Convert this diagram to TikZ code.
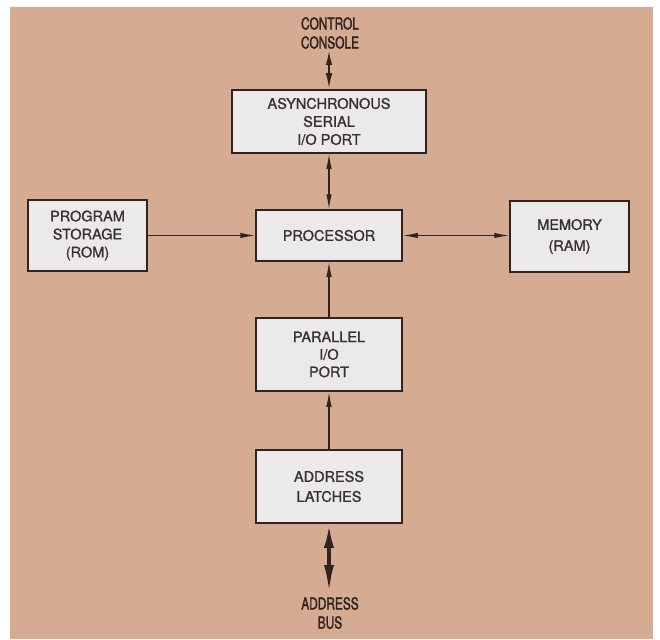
\documentclass[tikz,border=0pt]{standalone}
\usepackage{fontspec}
\setmainfont{TeX Gyre Heros}
\newfontfamily\boxfont[FakeBold=1.2]{TeX Gyre Heros}
\newfontfamily\lblfont[FakeBold=2]{TeX Gyre Heros}
\usetikzlibrary{arrows.meta}
\definecolor{tan}{RGB}{213,171,146}
\definecolor{boxfill}{RGB}{236,233,234}
\definecolor{ink}{RGB}{48,35,32}
\definecolor{txt}{RGB}{58,50,50}
\begin{document}
\begin{tikzpicture}[x=1pt,y=1pt,
  blk/.style={draw=ink,line width=1.5pt,fill=boxfill,inner sep=0pt,align=center,
    text=txt,font=\boxfont\fontsize{14.5}{18}\selectfont},
  outlbl/.style={align=center,text=ink,inner sep=0pt,transform shape,xscale=0.72,
    font=\lblfont\fontsize{16.5}{19}\selectfont},
  conn/.style={draw=ink,line width=1.3pt},
  mytip/.tip={Latex[length=15pt,width=5.5pt]}]
\useasboundingbox (0,0) rectangle (660,-639);
\fill[white] (0,0) rectangle (660,-639);
\fill[tan] (10,-7) rectangle (653,-639);

\node[blk,minimum width=194pt,minimum height=63pt] (ser) at (329,-121.5) {ASYNCHRONOUS\\SERIAL\\I/O PORT};
\node[blk,minimum width=146pt,minimum height=51pt] (proc) at (329,-235.5) {PROCESSOR};
\node[blk,minimum width=119pt,minimum height=71pt] (rom) at (87.5,-235.5) {PROGRAM\\STORAGE\\(ROM)};
\node[blk,minimum width=119pt,minimum height=71pt,font=\boxfont\fontsize{14.5}{21}\selectfont] (ram) at (569.5,-236.5) {MEMORY\\(RAM)};
\node[blk,minimum width=146pt,minimum height=73pt,font=\boxfont\fontsize{14.5}{17.5}\selectfont] (par) at (329,-354.5) {PARALLEL\\I/O\\PORT};
\node[blk,minimum width=146pt,minimum height=73pt,font=\boxfont\fontsize{14.5}{20}\selectfont] (lat) at (329,-486.5) {ADDRESS\\LATCHES};

\node[outlbl] (cc) at (330,-33) {CONTROL\\CONSOLE};
\node[outlbl] (bus) at (330,-613) {ADDRESS\\BUS};
\coordinate (ccend) at (329,-50);
\coordinate (busend) at (329,-593);

\draw[conn,line width=2pt,{Latex[length=15pt,width=6.5pt]}-{Latex[length=16pt,width=6.5pt]}] (ccend) -- (ser.north);
\draw[conn,mytip-mytip] (ser.south) -- (proc.north);
\draw[conn,-mytip] (rom.east) -- (proc.west);
\draw[conn,mytip-mytip] (proc.east) -- (ram.west |- proc.east);
\draw[conn,mytip-] (proc.south) -- (par.north);
\draw[conn,mytip-] (par.south) -- (lat.north);
\draw[conn,line width=3.5pt,{Latex[length=24pt,width=10pt]}-{Latex[length=28pt,width=10pt]}] (lat.south) -- (busend);
\end{tikzpicture}
\end{document}
